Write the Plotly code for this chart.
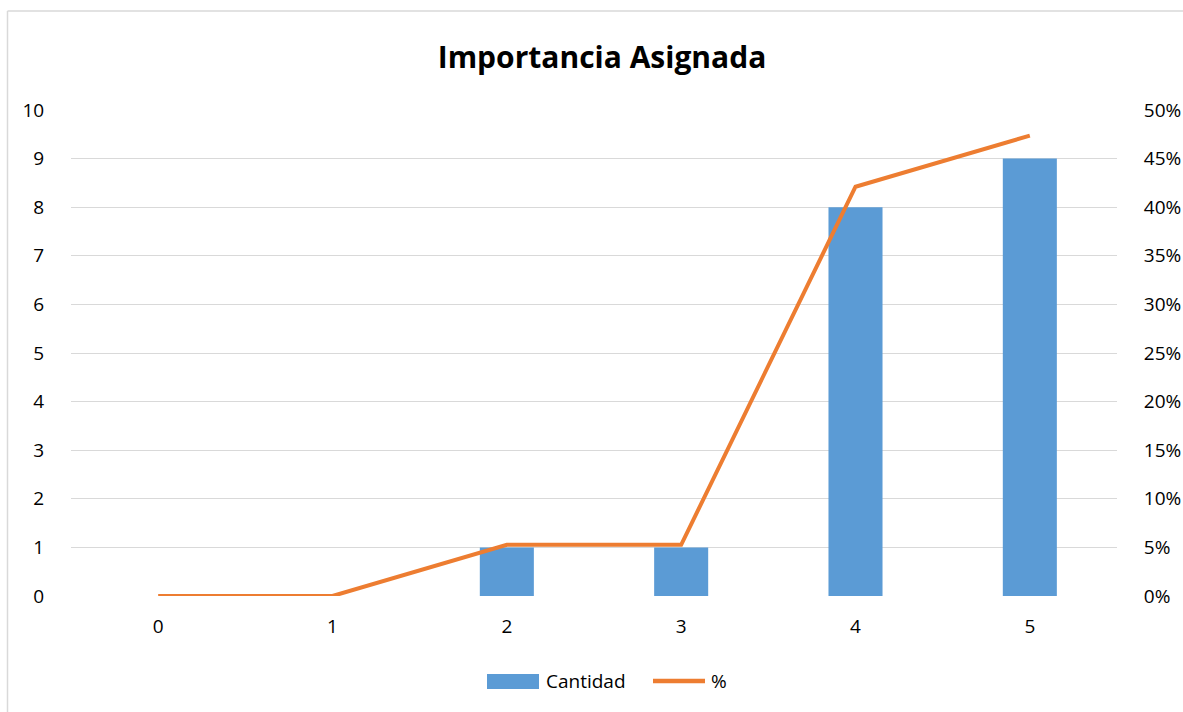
import plotly.graph_objects as go

categorias = [0, 1, 2, 3, 4, 5]
cantidad = [0, 0, 1, 1, 8, 9]
porcentaje = [0.0, 0.0, 1/19, 1/19, 8/19, 9/19]
titulo = "Importancia Asignada"
serie_barras = "Cantidad"
serie_linea = "%"

FONT = "'Open Sans', sans-serif"
W, H = 1183, 712
L, R, T, B = 71, 66, 110, 116
pw, ph = W - L - R, H - T - B

def px_x(x):
    return (x - L) / pw

def px_y(y):
    return (H - B - y) / ph

fig = go.Figure()
fig.add_trace(go.Bar(
    x=categorias, y=cantidad, name=serie_barras,
    marker=dict(color="#5B9BD5", line=dict(width=0)),
    width=0.31, yaxis="y",
))
fig.add_trace(go.Scatter(
    x=categorias, y=porcentaje, name=serie_linea, mode="lines",
    line=dict(color="#ED7D31", width=4), yaxis="y2",
))

ly = 681
fig.update_layout(
    width=W, height=H,
    margin=dict(l=L, r=R, t=T, b=B, autoexpand=False),
    paper_bgcolor="white", plot_bgcolor="white",
    font=dict(family=FONT, size=19, color="#000000"),
    title=dict(text="<b>" + titulo + "</b>", x=px_x(602), xanchor="center",
               xref="paper", y=1 - 57 / H, yanchor="middle",
               font=dict(family=FONT, size=30, color="#000000")),
    xaxis=dict(range=[-0.5, 5.5], tickvals=categorias, ticktext=[str(c) for c in categorias],
               showgrid=False, zeroline=False, showline=False, automargin=False,
               ticks="outside", ticklen=13, tickcolor="rgba(0,0,0,0)"),
    yaxis=dict(range=[0, 10], dtick=1, showgrid=True, gridcolor="#D9D9D9", gridwidth=1.3,
               zeroline=False, showline=False, automargin=False,
               ticks="outside", ticklen=22, tickcolor="rgba(0,0,0,0)"),
    yaxis2=dict(range=[0, 0.5], dtick=0.05, tickformat=".0%", overlaying="y", side="right",
                showgrid=False, zeroline=False, showline=False, automargin=False,
                ticks="outside", ticklen=22, tickcolor="rgba(0,0,0,0)"),
    showlegend=False,
    bargap=0.69,
    shapes=[
        dict(type="line", xref="paper", yref="paper", x0=px_x(7.5), x1=px_x(1183),
             y0=px_y(11), y1=px_y(11), line=dict(color="#D9D9D9", width=1.5)),
        dict(type="line", xref="paper", yref="paper", x0=px_x(7.5), x1=px_x(7.5),
             y0=px_y(11), y1=px_y(712), line=dict(color="#D9D9D9", width=1.5)),
        # legend keys
        dict(type="rect", xref="paper", yref="paper", x0=px_x(487), x1=px_x(539),
             y0=px_y(689), y1=px_y(674), fillcolor="#5B9BD5", line=dict(width=0)),
        dict(type="line", xref="paper", yref="paper", x0=px_x(653), x1=px_x(705),
             y0=px_y(ly), y1=px_y(ly), line=dict(color="#ED7D31", width=4.5)),
    ],
    annotations=[
        dict(text=serie_barras, xref="paper", yref="paper", x=px_x(544), y=px_y(ly),
             xanchor="left", yanchor="middle", showarrow=False,
             font=dict(family=FONT, size=19, color="#000000")),
        dict(text=serie_linea, xref="paper", yref="paper", x=px_x(709), y=px_y(ly),
             xanchor="left", yanchor="middle", showarrow=False,
             font=dict(family=FONT, size=19, color="#000000")),
    ],
)

fig.write_html("out.html")
